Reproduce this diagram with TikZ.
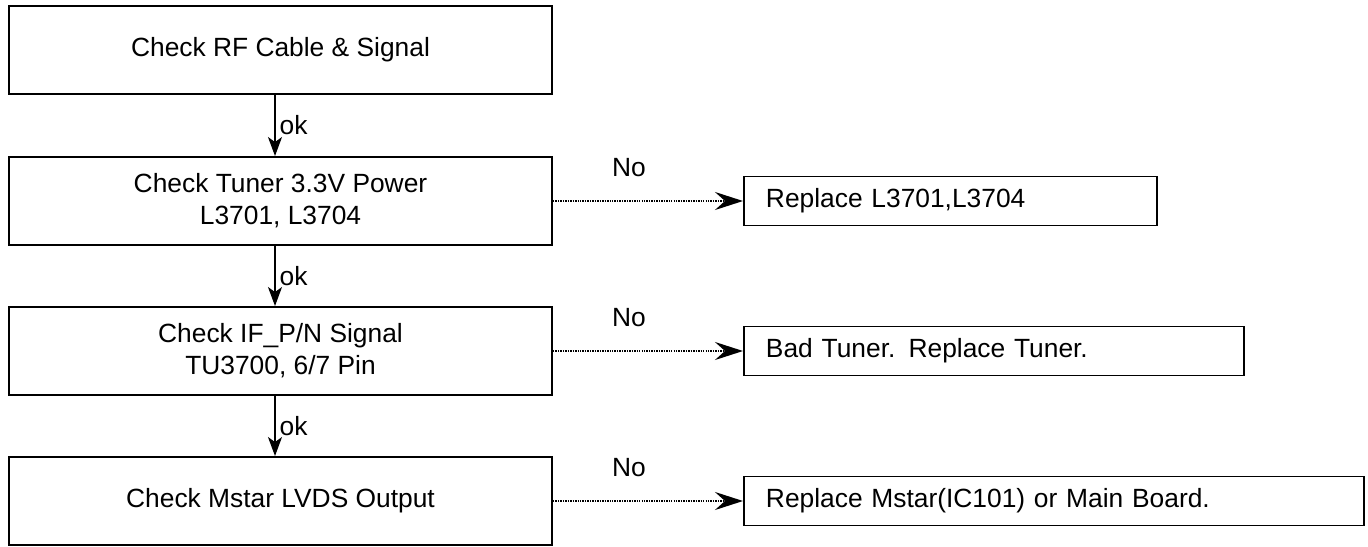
\documentclass[tikz,border=0pt]{standalone}
\usepackage{fontspec}
\setmainfont{Liberation Sans}
\usetikzlibrary{arrows.meta}

\begin{document}
\begin{tikzpicture}[font=\fontsize{15}{18.2}\selectfont,
    check/.style = {draw, line width=1.1pt, minimum width=10.86cm, minimum height=1.76cm, align=center},
    fix/.style = {draw, line width=1.1pt, minimum height=0.98cm, inner xsep=0.44cm, align=left, anchor=west},
    down/.style = {-{Stealth[length=0.38cm, width=0.28cm, inset=0.1cm]}, line width=0.8pt},
    fail/.style = {-{Stealth[length=0.56cm, width=0.36cm, inset=0.2cm]}, line width=1.3pt, dash pattern=on 0.8pt off 0.6pt}]
    \useasboundingbox (0,0) rectangle (27.36,-10.94);
    % Nodes

    \node[check] (c1) at (5.61, -1.00) {Check RF Cable \& Signal};
    \node[check] (c2) at (5.61, -4.02) {Check Tuner 3.3V Power\\L3701, L3704};
    \node[check] (c3) at (5.61, -7.02) {Check IF\_P/N Signal\\TU3700, 6/7 Pin};
    \node[check] (c4) at (5.61, -10.02) {Check Mstar LVDS Output};

    \node[fix, text width=7.38cm] (r2) at (14.86, -4.02) {Replace L3701,L3704};
    \node[fix, text width=9.12cm] (r3) at (14.86, -7.02) {Bad Tuner. Replace Tuner.};
    \node[fix, text width=11.52cm] (r4) at (14.86, -10.02) {Replace Mstar(IC101) or Main Board.};

    % Edges

    \draw[down] ([xshift=-0.11cm]c1.south) to node[midway, right, inner sep=0.08cm] {ok} ([xshift=-0.11cm]c2.north);
    \draw[down] ([xshift=-0.11cm]c2.south) to node[midway, right, inner sep=0.08cm] {ok} ([xshift=-0.11cm]c3.north);
    \draw[down] ([xshift=-0.11cm]c3.south) to node[midway, right, inner sep=0.08cm] {ok} ([xshift=-0.11cm]c4.north);

    \draw[fail] (c2.east) to node[pos=0.4, above=0.46cm, inner sep=0pt] {No} (r2.west);
    \draw[fail] (c3.east) to node[pos=0.4, above=0.46cm, inner sep=0pt] {No} (r3.west);
    \draw[fail] (c4.east) to node[pos=0.4, above=0.46cm, inner sep=0pt] {No} (r4.west);

\end{tikzpicture}
\end{document}
